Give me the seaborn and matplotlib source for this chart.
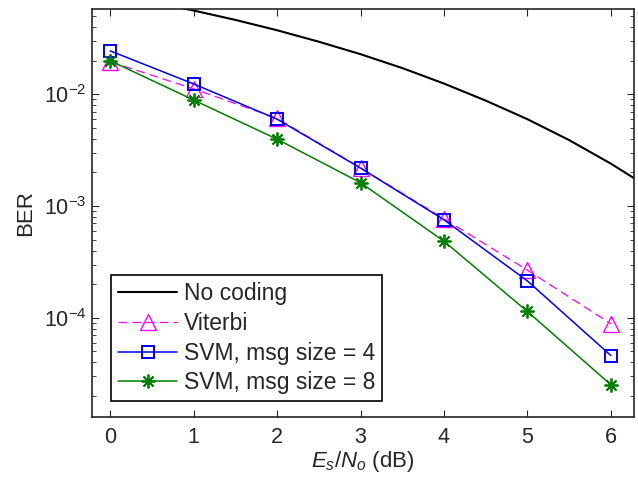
import matplotlib
matplotlib.use("Agg")
import matplotlib.pyplot as plt
import seaborn as sns
from matplotlib.ticker import LogLocator, NullFormatter

# values
snr = [0, 1, 2, 3, 4, 5, 6]
viterbi = [0.0196, 0.0112, 0.0061, 0.0022, 0.00077, 0.000267, 0.0000885]
svm4 = [0.0245, 0.0124, 0.0060, 0.00219, 0.000755, 0.000214, 0.000046]
svm8 = [0.0200, 0.0089, 0.00397, 0.00162, 0.000485, 0.000114, 0.0000252]

snr_fine = [0, 0.5, 1, 1.5, 2, 2.5, 3, 3.5, 4, 4.5, 5, 5.5, 6, 6.5]
no_coding = [0.0786, 0.0671, 0.0563, 0.0464, 0.0375, 0.0296, 0.0229,
             0.0172, 0.0125, 0.0088, 0.0060, 0.0039, 0.0024, 0.0014]

sns.set_style("ticks")
plt.rcParams['font.family'] = ['Liberation Sans', 'DejaVu Sans']
plt.rcParams['mathtext.fontset'] = 'custom'
plt.rcParams['mathtext.rm'] = 'Liberation Sans'
plt.rcParams['mathtext.it'] = 'Liberation Sans:italic'

fig = plt.figure(figsize=(6.38, 4.78), dpi=100)
ax = fig.add_axes([0.144, 0.128, 0.85, 0.853])

sns.lineplot(x=snr_fine, y=no_coding, ax=ax, color='black', lw=1.5, label='No coding')
sns.lineplot(x=snr, y=viterbi, ax=ax, color='magenta', lw=0.9,
             marker='^', markersize=11, markerfacecolor='none',
             markeredgecolor='magenta', markeredgewidth=1, label='Viterbi')
ax.lines[-1].set_linestyle((0, (7, 4)))
sns.lineplot(x=snr, y=svm4, ax=ax, color='blue', lw=1.1,
             marker='s', markersize=8.5, markerfacecolor='none',
             markeredgecolor='blue', markeredgewidth=1.4, label='SVM, msg size = 4')
sns.lineplot(x=snr, y=svm8, ax=ax, color='green', lw=1.1,
             marker=(8, 2, 0), markersize=10,
             markeredgecolor='green', markeredgewidth=1.3, label='SVM, msg size = 8')

ax.set_yscale('log')
ax.set_xlim(-0.22, 6.28)
ax.set_ylim(1.3e-5, 0.058)
ax.set_xticks(snr)
ax.yaxis.set_major_locator(LogLocator(base=10, numticks=10))
ax.yaxis.set_minor_locator(LogLocator(base=10, subs=range(2, 10), numticks=50))
ax.yaxis.set_minor_formatter(NullFormatter())
ax.tick_params(which='both', direction='in', top=True, right=True, labelsize=15.5)
ax.tick_params(axis='x', pad=7)
ax.tick_params(which='major', length=5)
ax.tick_params(which='minor', length=3)
for s in ax.spines.values():
    s.set_linewidth(1.2)
    s.set_visible(True)

ax.set_xlabel('$E_s/N_o$ (dB)', fontsize=16, labelpad=1)
ax.set_ylabel('BER', fontsize=16, labelpad=6)

leg = ax.legend(loc='lower left', bbox_to_anchor=(0.035, 0.038), borderaxespad=0,
                fontsize=16.5, frameon=True, fancybox=False, edgecolor='black',
                framealpha=1, handlelength=2.6, handletextpad=0.3, borderpad=0.3,
                labelspacing=0.3)
leg.get_frame().set_linewidth(1.2)

plt.savefig('out.png', dpi=100)
